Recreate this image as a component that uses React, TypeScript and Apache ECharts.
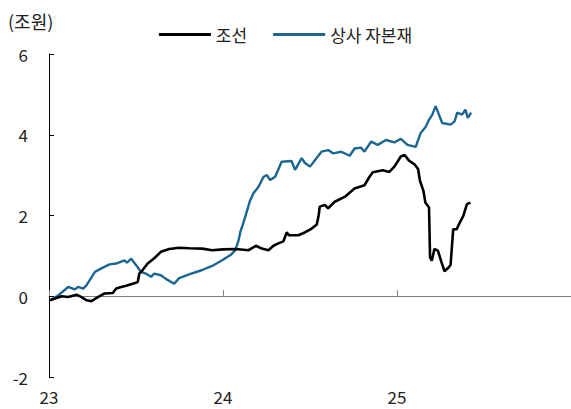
import React, { useEffect, useRef } from "react";
import * as echarts from "echarts";

// x = year (23 = 2023-01-01), y = 조원
const shipX = [23.006, 23.072, 23.11, 23.158, 23.187, 23.215, 23.244, 23.281, 23.32, 23.367, 23.386, 23.415, 23.443, 23.481, 23.51, 23.519, 23.538, 23.567, 23.605, 23.643, 23.691, 23.748, 23.805, 23.881, 23.938, 24.0, 24.071, 24.147, 24.189, 24.223, 24.261, 24.29, 24.318, 24.347, 24.366, 24.38, 24.433, 24.47, 24.508, 24.539, 24.549, 24.556, 24.585, 24.604, 24.642, 24.699, 24.756, 24.813, 24.842, 24.861, 24.918, 24.956, 24.985, 25.022, 25.044, 25.069, 25.1, 25.121, 25.132, 25.152, 25.163, 25.184, 25.19, 25.2, 25.215, 25.235, 25.256, 25.273, 25.298, 25.308, 25.323, 25.343, 25.36, 25.381, 25.402, 25.422];
const shipY = [-0.1, 0.0, -0.02, 0.04, -0.02, -0.1, -0.12, -0.02, 0.07, 0.08, 0.19, 0.23, 0.26, 0.31, 0.35, 0.56, 0.65, 0.81, 0.94, 1.1, 1.17, 1.2, 1.19, 1.18, 1.14, 1.16, 1.17, 1.14, 1.25, 1.18, 1.14, 1.25, 1.31, 1.36, 1.58, 1.51, 1.51, 1.58, 1.67, 1.78, 1.98, 2.22, 2.26, 2.18, 2.34, 2.46, 2.67, 2.75, 2.96, 3.07, 3.12, 3.08, 3.21, 3.46, 3.5, 3.36, 3.27, 3.15, 2.86, 2.61, 2.32, 2.2, 0.96, 0.88, 1.17, 1.13, 0.84, 0.62, 0.72, 0.78, 1.66, 1.66, 1.82, 1.99, 2.28, 2.32];

const tradeX = [23.006, 23.053, 23.11, 23.148, 23.167, 23.196, 23.215, 23.234, 23.263, 23.301, 23.348, 23.386, 23.434, 23.448, 23.472, 23.501, 23.529, 23.558, 23.586, 23.605, 23.643, 23.672, 23.719, 23.748, 23.805, 23.881, 23.938, 23.995, 24.043, 24.071, 24.09, 24.1, 24.113, 24.134, 24.154, 24.175, 24.204, 24.233, 24.252, 24.271, 24.3, 24.337, 24.394, 24.414, 24.452, 24.471, 24.5, 24.537, 24.566, 24.604, 24.632, 24.68, 24.728, 24.756, 24.794, 24.813, 24.851, 24.889, 24.937, 24.985, 25.022, 25.06, 25.108, 25.118, 25.136, 25.165, 25.184, 25.203, 25.222, 25.241, 25.26, 25.308, 25.331, 25.346, 25.374, 25.393, 25.407, 25.426];
const tradeY = [-0.1, 0.02, 0.23, 0.17, 0.23, 0.19, 0.27, 0.4, 0.6, 0.69, 0.79, 0.81, 0.89, 0.83, 0.93, 0.77, 0.6, 0.56, 0.48, 0.56, 0.52, 0.43, 0.31, 0.45, 0.54, 0.65, 0.75, 0.89, 1.02, 1.14, 1.39, 1.6, 1.76, 2.06, 2.35, 2.55, 2.71, 2.96, 3.0, 2.88, 2.96, 3.33, 3.35, 3.13, 3.42, 3.3, 3.21, 3.42, 3.58, 3.62, 3.54, 3.58, 3.48, 3.66, 3.68, 3.58, 3.83, 3.75, 3.87, 3.81, 3.9, 3.75, 3.7, 3.83, 4.04, 4.2, 4.37, 4.5, 4.71, 4.5, 4.29, 4.25, 4.33, 4.55, 4.5, 4.62, 4.42, 4.55];

const yTicks = [-2, 0, 2, 4, 6];
const xYears = [23, 24, 25, 26];
const seriesNames = ["조선", "상사 자본재"];

const FONT = "'Noto Sans CJK KR', 'Noto Sans', sans-serif";

export default function App() {
  const ref = useRef<HTMLDivElement>(null);
  useEffect(() => {
    document.body.style.margin = "0";
    if (!ref.current) return;
    const chart = echarts.init(ref.current, null, { renderer: "svg" });
    const pair = (xs: number[], ys: number[]) => xs.map((x, i) => [x, ys[i]]);
    chart.setOption({
      animation: false,
      textStyle: { fontFamily: FONT },
      grid: { left: 49, right: -3, top: 54, bottom: 32 },
      graphic: [
        {
          type: "text",
          left: 8,
          top: 12,
          style: { text: "(조원)", fontSize: 18, fontFamily: FONT, fill: "#222" },
        },
      ],
      legend: {
        top: 21,
        left: "center",
        icon: "rect",
        itemWidth: 52,
        itemHeight: 3,
        itemGap: 26,
        textStyle: { fontSize: 17, color: "#222", fontFamily: FONT },
        data: seriesNames,
      },
      xAxis: [
        {
          type: "value",
          min: xYears[0],
          max: xYears[xYears.length - 1],
          interval: 1,
          position: "bottom",
          axisLine: { show: false, onZero: false },
          axisTick: { show: false },
          splitLine: { show: false },
          axisLabel: {
            fontSize: 17,
            color: "#222",
            margin: 11,
            showMaxLabel: false,
            formatter: (v: number) => String(v),
          },
        },
        {
          type: "value",
          min: xYears[0],
          max: xYears[xYears.length - 1],
          interval: 1,
          position: "bottom",
          axisLine: { show: true, onZero: true, lineStyle: { color: "#7f7f7f", width: 1 } },
          axisTick: { show: true, inside: true, length: 6, lineStyle: { color: "#7f7f7f" } },
          axisLabel: { show: false },
          splitLine: { show: false },
        },
      ],
      yAxis: {
        type: "value",
        min: yTicks[0],
        max: yTicks[yTicks.length - 1],
        interval: 2,
        axisLine: { show: true, lineStyle: { color: "#000", width: 1 } },
        axisTick: { show: true, inside: true, length: 5, lineStyle: { color: "#000" } },
        splitLine: { show: false },
        axisLabel: { fontSize: 17, color: "#222", margin: 21 },
      },
      series: [
        {
          name: seriesNames[0],
          type: "line",
          xAxisIndex: 0,
          data: pair(shipX, shipY),
          symbol: "none",
          lineStyle: { color: "#000", width: 2.6 },
          itemStyle: { color: "#000" },
          z: 3,
        },
        {
          name: seriesNames[1],
          type: "line",
          xAxisIndex: 0,
          data: pair(tradeX, tradeY),
          symbol: "none",
          lineStyle: { color: "#1b6690", width: 2.4 },
          itemStyle: { color: "#1b6690" },
          z: 2,
        },
      ],
    });
    return () => chart.dispose();
  }, []);
  return <div ref={ref} style={{ width: 571, height: 409, position: "absolute", left: 0, top: 0 }} />;
}
